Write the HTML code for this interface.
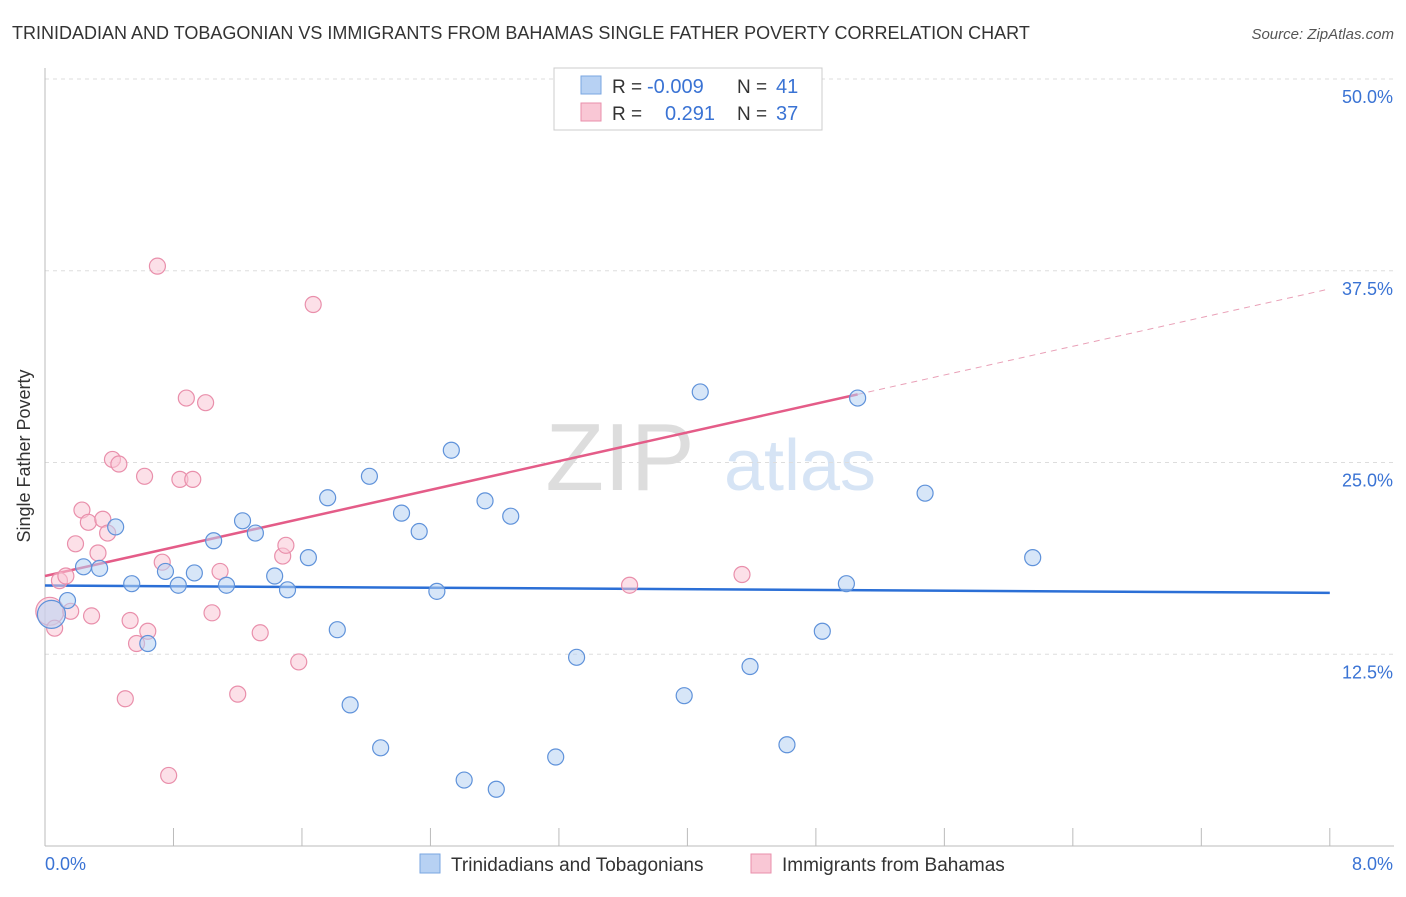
<!DOCTYPE html>
<html><head><meta charset="utf-8">
<style>
body{margin:0;background:#fff;font-family:"Liberation Sans",sans-serif;}
svg text{font-family:"Liberation Sans",sans-serif;}
</style></head>
<body>
<svg id="chart" width="1406" height="892" xmlns="http://www.w3.org/2000/svg">
<text x="12" y="39" font-size="18" fill="#333">TRINIDADIAN AND TOBAGONIAN VS IMMIGRANTS FROM BAHAMAS SINGLE FATHER POVERTY CORRELATION CHART</text>
<text x="1394" y="39" font-size="15" fill="#555" text-anchor="end" font-style="italic">Source: ZipAtlas.com</text>
<text x="30" y="456" font-size="18" fill="#333" text-anchor="middle" transform="rotate(-90 30 456)">Single Father Poverty</text>
<text x="620" y="490" font-size="96" fill="#ddd" font-family="Liberation Serif" text-anchor="middle">ZIP</text>
<text x="800" y="490" font-size="72" fill="#d6e4f5" text-anchor="middle">atlas</text>
<g id="grid"></g><g id="axes"></g><g id="trends"></g><g id="pts"></g>
<g>
<rect x="554" y="68" width="268" height="62" fill="#fff" stroke="#ccc"/>
<rect x="581" y="76" width="20" height="18" fill="#b7d1f3" stroke="#7aa6e0"/>
<text x="612" y="93" font-size="19" fill="#333">R = </text><text x="647" y="93" font-size="20" fill="#3a73d4">-0.009</text>
<text x="737" y="93" font-size="19" fill="#333">N = </text><text x="776" y="93" font-size="20" fill="#3a73d4">41</text>
<rect x="581" y="103" width="20" height="18" fill="#f9c7d5" stroke="#e98fab"/>
<text x="612" y="120" font-size="19" fill="#333">R = </text><text x="665" y="120" font-size="20" fill="#3a73d4">0.291</text>
<text x="737" y="120" font-size="19" fill="#333">N = </text><text x="776" y="120" font-size="20" fill="#3a73d4">37</text>
</g>
<g>
<rect x="420" y="854" width="20" height="19" fill="#b7d1f3" stroke="#7aa6e0"/>
<text x="451" y="871" font-size="19" fill="#333">Trinidadians and Tobagonians</text>
<rect x="751" y="854" width="20" height="19" fill="#f9c7d5" stroke="#e98fab"/>
<text x="782" y="871" font-size="19" fill="#333">Immigrants from Bahamas</text>
</g>
</svg>
<script>
const yTicks=[12.5,25,37.5,50];
const yTickLabels=["12.5%","25.0%","37.5%","50.0%"];
const xTickCount=10;
const blueX=[0.04,0.14,0.24,0.34,0.44,0.54,0.64,0.75,0.83,0.93,1.05,1.13,1.23,1.31,1.43,1.51,1.64,1.76,1.82,1.90,2.02,2.09,2.22,2.33,2.44,2.53,2.61,2.74,2.81,2.90,3.18,3.31,3.98,4.08,4.39,4.62,4.84,4.99,5.06,5.48,6.15];
const blueY=[15.1,16.0,18.2,18.1,20.8,17.1,13.2,17.9,17.0,17.8,19.9,17.0,21.2,20.4,17.6,16.7,18.8,22.7,14.1,9.2,24.1,6.4,21.7,20.5,16.6,25.8,4.3,22.5,3.7,21.5,5.8,12.3,9.8,29.6,11.7,6.6,14.0,17.1,29.2,23.0,18.8];
const pinkX=[0.03,0.06,0.09,0.13,0.16,0.19,0.23,0.27,0.29,0.33,0.36,0.39,0.42,0.46,0.50,0.53,0.57,0.62,0.64,0.70,0.73,0.77,0.84,0.88,0.92,1.00,1.04,1.09,1.20,1.34,1.48,1.50,1.58,1.67,3.64,4.34,3.83];
const pinkY=[15.3,14.2,17.3,17.6,15.3,19.7,21.9,21.1,15.0,19.1,21.3,20.4,25.2,24.9,9.6,14.7,13.2,24.1,14.0,37.8,18.5,4.6,23.9,29.2,23.9,28.9,15.2,17.9,9.9,13.9,18.9,19.6,12.0,35.3,17.0,17.7,48.6];
const blueTrend=[16.98,-0.06];   // intercept, slope per %
const pinkTrend=[17.6,2.34];
const pinkSolidEnd=5.06;
const X=v=>45+v*160.6, Y=v=>846-v*15.34;
const NS="http://www.w3.org/2000/svg";
function mk(t,a,p){const e=document.createElementNS(NS,t);for(const k in a)e.setAttribute(k,a[k]);p.appendChild(e);return e;}
const grid=document.getElementById('grid'),axes=document.getElementById('axes'),tr=document.getElementById('trends'),pts=document.getElementById('pts');
yTicks.forEach((t,i)=>{
 const l=mk('line',{x1:45,x2:1394,y1:Y(t),y2:Y(t),stroke:'#ddd','stroke-dasharray':'4,4'},grid);
 
 
 const tx=mk('text',{x:1393,y:Y(t)+24,'font-size':18,fill:'#3a73d4','text-anchor':'end'},axes);
 tx.textContent=yTickLabels[i];
 
 
});
const ax=mk('line',{x1:45,x2:45,y1:68,y2:846,stroke:'#bbb'},axes);


const bx=mk('line',{x1:45,x2:1394,y1:846,y2:846,stroke:'#bbb'},axes);


for(let i=1;i<=xTickCount;i++){const v=i*0.8;const t=mk('line',{x1:X(v),x2:X(v),y1:828,y2:846,stroke:'#bbb'},axes);
 
 }
[["0.0%",45,'start'],["8.0%",1393,'end']].forEach(a=>{const t=mk('text',{x:a[1],y:870,'font-size':18,fill:'#3a73d4','text-anchor':a[2]},axes);t.textContent=a[0];
 
 });
const bl=mk('line',{x1:X(0),y1:Y(blueTrend[0]),x2:X(8),y2:Y(blueTrend[0]+8*blueTrend[1]),stroke:'#2b6fd6','stroke-width':2.5},tr);


const pl=mk('line',{x1:X(0),y1:Y(pinkTrend[0]),x2:X(pinkSolidEnd),y2:Y(pinkTrend[0]+pinkSolidEnd*pinkTrend[1]),stroke:'#e45c88','stroke-width':2.5},tr);


const pd=mk('line',{x1:X(pinkSolidEnd),y1:Y(pinkTrend[0]+pinkSolidEnd*pinkTrend[1]),x2:X(8),y2:Y(pinkTrend[0]+8*pinkTrend[1]),stroke:'#e9a0b7','stroke-width':1,'stroke-dasharray':'6,5'},tr);


function dots(xs,ys,fill,stroke,name){xs.forEach((x,i)=>{const c=mk('circle',{cx:X(x),cy:Y(ys[i]),r:i===0?14:8,fill:fill,'fill-opacity':0.55,stroke:stroke,'stroke-width':1.2},pts);
 
 });}
dots(pinkX,pinkY,'#f9c7d5','#e98fab','point-bahamas');
dots(blueX,blueY,'#b7d1f3','#5f92da','point-trinidadians');
</script>
</body></html>
